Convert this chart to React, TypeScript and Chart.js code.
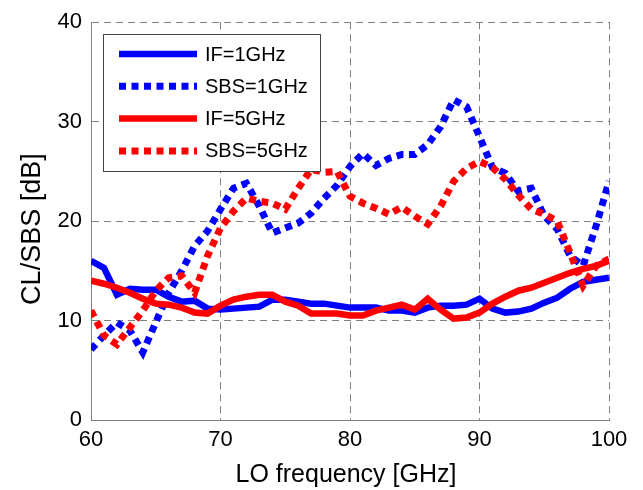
import { useEffect, useRef } from "react";
import { Chart, registerables } from "chart.js";

Chart.register(...registerables);

// LO frequency [GHz]
const FREQ_GHZ = [
  60, 61, 62, 63, 64, 65, 66, 67, 68, 69,
  70, 71, 72, 73, 74, 75, 76, 77, 78, 79,
  80, 81, 82, 83, 84, 85, 86, 87, 88, 89,
  90, 91, 92, 93, 94, 95, 96, 97, 98, 99, 100,
];

const IF_1GHZ = [
  16.0, 15.3, 12.6, 13.2, 13.1, 13.1, 12.4, 11.9, 12.0, 11.2,
  11.1, 11.2, 11.3, 11.4, 12.1, 12.1, 11.9, 11.7, 11.7, 11.5,
  11.3, 11.3, 11.3, 11.0, 11.0, 10.8, 11.3, 11.5, 11.5, 11.6,
  12.2, 11.2, 10.8, 10.9, 11.2, 11.8, 12.3, 13.2, 13.9, 14.1, 14.3,
];

const SBS_1GHZ = [
  7.1, 8.5, 9.8, 9.0, 6.8, 9.8, 12.8, 15.0, 17.5, 19.0,
  21.2, 23.3, 23.8, 21.5, 18.8, 19.3, 19.8, 20.8, 22.3, 23.6,
  25.5, 26.8, 25.6, 26.3, 26.7, 26.7, 27.7, 29.5, 32.2, 31.5,
  28.5, 25.4, 24.8, 23.0, 23.3, 20.5, 19.2, 16.5, 15.5, 19.5, 24.0,
];

const IF_5GHZ = [
  14.0, 13.7, 13.3, 12.8, 12.2, 11.7, 11.6, 11.3, 10.8, 10.7,
  11.5, 12.1, 12.4, 12.6, 12.6, 11.9, 11.5, 10.7, 10.7, 10.7,
  10.5, 10.5, 11.0, 11.3, 11.6, 11.1, 12.2, 11.1, 10.2, 10.3,
  10.8, 11.7, 12.4, 13.0, 13.3, 13.8, 14.3, 14.8, 15.2, 15.5, 16.0,
];

const SBS_5GHZ = [
  11.0, 8.5, 7.6, 9.3, 11.0, 13.0, 14.3, 14.5, 12.8, 16.5,
  19.3, 21.0, 22.3, 22.0, 21.8, 21.2, 23.3, 25.2, 24.9, 25.0,
  22.5, 21.8, 21.3, 20.7, 21.4, 20.5, 19.7, 21.5, 24.0, 25.3,
  26.0, 25.4, 24.2, 22.6, 21.2, 20.7, 20.0, 16.8, 13.5, 15.5, 16.2,
];

const SERIES_LABELS = ["IF=1GHz", "SBS=1GHz", "IF=5GHz", "SBS=5GHz"];
const X_TICKS = [60, 70, 80, 90, 100];
const Y_TICKS = [0, 10, 20, 30, 40];
const X_TITLE = "LO frequency [GHz]";
const Y_TITLE = "CL/SBS [dB]";

const FONT = "'Liberation Sans', Arial, Helvetica, sans-serif";

const toPoints = (ys: number[]) => FREQ_GHZ.map((x, i) => ({ x, y: ys[i] }));

const boxLegend = {
  id: "boxLegend",
  afterDatasetsDraw(chart: any) {
    const { ctx, chartArea } = chart;
    const x0 = Math.round(chartArea.left) + 12;
    const y0 = Math.round(chartArea.top) + 12;
    const w = 217;
    const h = 137;
    ctx.save();
    ctx.fillStyle = "#ffffff";
    ctx.fillRect(x0, y0, w, h);
    ctx.setLineDash([]);
    ctx.lineWidth = 1;
    ctx.strokeStyle = "#444444";
    ctx.strokeRect(x0 + 0.5, y0 + 0.5, w, h);
    chart.data.datasets.forEach((ds: any, i: number) => {
      const y = y0 + 20 + i * 32.3;
      ctx.beginPath();
      ctx.setLineDash(ds.borderDash || []);
      ctx.lineWidth = ds.borderWidth;
      ctx.strokeStyle = ds.borderColor;
      ctx.lineCap = "butt";
      ctx.moveTo(x0 + 16, y);
      ctx.lineTo(x0 + 94, y);
      ctx.stroke();
      ctx.setLineDash([]);
      ctx.fillStyle = "#000000";
      ctx.font = `20px ${FONT}`;
      ctx.textBaseline = "middle";
      ctx.textAlign = "left";
      ctx.fillText(ds.label, x0 + 102, y + 1);
    });
    ctx.restore();
  },
};

const axisTitles = {
  id: "axisTitles",
  afterDraw(chart: any) {
    const { ctx, chartArea } = chart;
    ctx.save();
    ctx.fillStyle = "#000000";
    ctx.textAlign = "center";
    ctx.textBaseline = "alphabetic";
    // x title
    ctx.font = `25px ${FONT}`;
    ctx.fillText(X_TITLE, (chartArea.left + chartArea.right) / 2 - 4, chartArea.bottom + 62);
    // y title
    ctx.font = `27px ${FONT}`;
    ctx.translate(40, (chartArea.top + chartArea.bottom) / 2 + 8);
    ctx.rotate(-Math.PI / 2);
    ctx.fillText(Y_TITLE, 0, 0);
    ctx.restore();
  },
};

export default function App() {
  const canvasRef = useRef<HTMLCanvasElement | null>(null);

  useEffect(() => {
    const canvas = canvasRef.current;
    if (!canvas) return;
    const dotted = [7, 5.5];
    const chart = new Chart(canvas, {
      type: "line",
      data: {
        datasets: [
          {
            label: SERIES_LABELS[0],
            data: toPoints(IF_1GHZ),
            borderColor: "#0000ff",
            borderWidth: 6.5,
            pointRadius: 0,
            tension: 0,
            order: 3,
          },
          {
            label: SERIES_LABELS[1],
            data: toPoints(SBS_1GHZ),
            borderColor: "#0000ff",
            borderWidth: 7,
            borderDash: dotted,
            borderCapStyle: "butt",
            pointRadius: 0,
            tension: 0,
            order: 2,
          },
          {
            label: SERIES_LABELS[2],
            data: toPoints(IF_5GHZ),
            borderColor: "#ff0000",
            borderWidth: 6.5,
            pointRadius: 0,
            tension: 0,
            order: 1,
          },
          {
            label: SERIES_LABELS[3],
            data: toPoints(SBS_5GHZ),
            borderColor: "#ff0000",
            borderWidth: 7,
            borderDash: dotted,
            borderCapStyle: "butt",
            pointRadius: 0,
            tension: 0,
            order: 0,
          },
        ],
      },
      options: {
        responsive: false,
        animation: false,
        layout: { padding: { top: 18, right: 34, left: 0, bottom: 0 } },
        plugins: {
          legend: { display: false },
          tooltip: { enabled: false },
        },
        scales: {
          x: {
            type: "linear",
            min: 60,
            max: 100,
            afterBuildTicks: (s: any) => {
              s.ticks = X_TICKS.map((v) => ({ value: v }));
            },
            afterFit: (s: any) => {
              s.height = 70;
            },
            ticks: {
              font: { family: FONT, size: 22 },
              color: "#000000",
              padding: 7,
              maxRotation: 0,
            },
            grid: { color: "#808080", lineWidth: 1, drawTicks: false },
            border: { color: "#808080", width: 1, dash: [7, 5] },
            title: { display: false },
          },
          y: {
            type: "linear",
            min: 0,
            max: 40,
            afterBuildTicks: (s: any) => {
              s.ticks = Y_TICKS.map((v) => ({ value: v }));
            },
            afterFit: (s: any) => {
              s.width = 91;
            },
            ticks: {
              font: { family: FONT, size: 22 },
              color: "#000000",
              padding: 9,
            },
            grid: { color: "#808080", lineWidth: 1, drawTicks: false },
            border: { color: "#808080", width: 1, dash: [7, 5] },
            title: { display: false },
          },
        },
      },
      plugins: [boxLegend, axisTitles],
    });
    return () => chart.destroy();
  }, []);

  return (
    <div style={{ position: "fixed", left: 0, top: 0, width: 643, height: 490, background: "#ffffff" }}>
      <canvas ref={canvasRef} width={643} height={490} style={{ display: "block" }} />
    </div>
  );
}
